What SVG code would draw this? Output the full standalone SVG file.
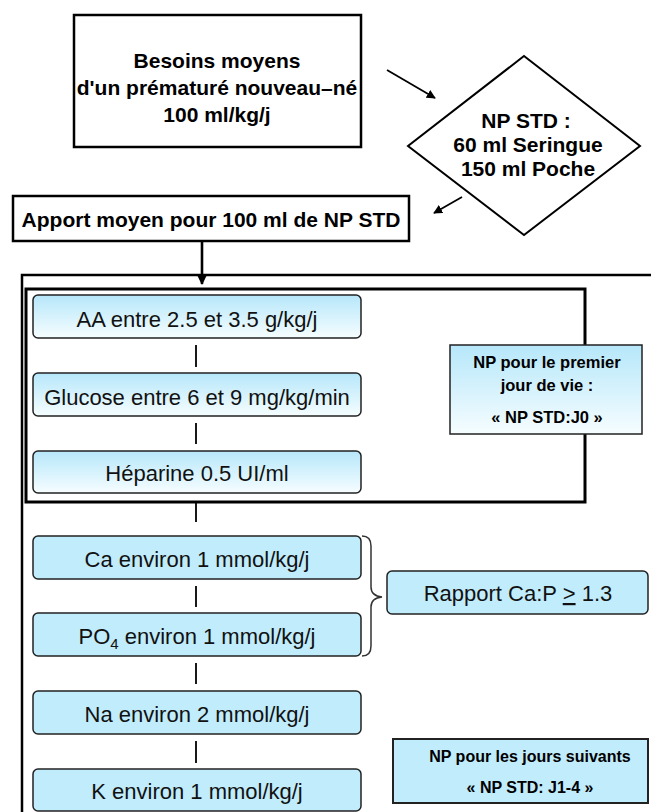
<svg xmlns="http://www.w3.org/2000/svg" width="651" height="812" viewBox="0 0 651 812">
<defs>
<linearGradient id="gr" x1="0" y1="0" x2="0" y2="1">
<stop offset="0" stop-color="#b6e7fa"/>
<stop offset="1" stop-color="#f6fdff"/>
</linearGradient>
<marker id="ah" viewBox="0 0 10 10" refX="9" refY="5" markerWidth="5" markerHeight="5" orient="auto" markerUnits="strokeWidth">
<path d="M0,0 L10,5 L0,10 z" fill="#000"/>
</marker>
<marker id="ah2" viewBox="0 0 10 10" refX="9" refY="5" markerWidth="3.5" markerHeight="3.5" orient="auto" markerUnits="strokeWidth">
<path d="M0,0 L10,5 L0,10 z" fill="#000"/>
</marker>
</defs>
<style>
.bt{font-family:"Liberation Sans",Arial,sans-serif;font-weight:bold;fill:#000;text-anchor:middle}
.rt{font-family:"Liberation Sans",Arial,sans-serif;font-size:22px;fill:#111;text-anchor:middle}
.hb{fill:#fff;stroke:#000;stroke-width:2.5}
.gb{fill:url(#gr);stroke:#222;stroke-width:1.5}
.sb{fill:#c0ecfc;stroke:#222;stroke-width:1.5}
.ln{stroke:#000;stroke-width:1.8;fill:none}
</style>
<rect width="651" height="812" fill="#fff"/>

<g id="frames">
<path d="M22,812 V275 H655" fill="none" stroke="#000" stroke-width="2.5"/>
<rect x="26" y="289" width="559" height="213" fill="none" stroke="#000" stroke-width="3"/>
</g>

<g id="connectors">
<line class="ln" x1="387" y1="70" x2="435" y2="98" marker-end="url(#ah)"/>
<line class="ln" x1="462" y1="197" x2="434" y2="213" marker-end="url(#ah)"/>
<line x1="202" y1="241" x2="202" y2="284" stroke="#000" stroke-width="2.6" marker-end="url(#ah2)"/>
<line class="ln" x1="196" y1="345" x2="196" y2="367"/>
<line class="ln" x1="196" y1="423" x2="196" y2="444"/>
<line class="ln" x1="196" y1="503" x2="196" y2="522"/>
<line class="ln" x1="196" y1="586" x2="196" y2="607"/>
<line class="ln" x1="196" y1="663" x2="196" y2="684"/>
<line class="ln" x1="196" y1="741" x2="196" y2="763"/>
<path d="M362,536 Q371,536 371,546 V587 Q371,596 382,597 Q371,598 371,607 V646 Q371,656 362,656" fill="none" stroke="#333" stroke-width="1.5"/>
</g>

<g id="besoins">
<rect class="hb" x="74" y="15" width="287" height="132"/>
<text class="bt" font-size="21" x="217" y="68">Besoins moyens</text>
<text class="bt" font-size="21" x="217" y="95">d'un prématuré nouveau–né</text>
<text class="bt" font-size="21" x="217" y="122">100 ml/kg/j</text>
</g>

<g id="npstd">
<polygon points="524,56 640,146 524,235 408,146" fill="#fff" stroke="#000" stroke-width="2"/>
<text class="bt" font-size="21" x="526" y="128">NP STD :</text>
<text class="bt" font-size="21" x="528" y="152">60 ml Seringue</text>
<text class="bt" font-size="21" x="528" y="176">150 ml Poche</text>
</g>

<g id="apport">
<rect class="hb" x="13" y="196" width="396" height="45"/>
<text class="bt" font-size="21" x="211" y="227">Apport moyen pour 100 ml de NP STD</text>
</g>

<g id="aa">
<rect class="gb" x="33" y="295" width="328" height="43" rx="5"/>
<text class="rt" x="197" y="327">AA entre 2.5 et 3.5 g/kg/j</text>
</g>
<g id="glucose">
<rect class="gb" x="33" y="373" width="328" height="43" rx="5"/>
<text class="rt" x="197" y="405">Glucose entre 6 et 9 mg/kg/min</text>
</g>
<g id="heparine">
<rect class="gb" x="33" y="451" width="328" height="42" rx="5"/>
<text class="rt" x="197" y="481">Héparine 0.5 UI/ml</text>
</g>

<g id="np-j0">
<rect class="gb" x="450" y="345" width="192" height="89" stroke-width="1.8"/>
<text class="bt" font-size="16.5" x="547" y="368">NP pour le premier</text>
<text class="bt" font-size="16.5" x="547" y="391">jour de vie :</text>
<text class="bt" font-size="16.5" x="547" y="423">« NP STD:J0 »</text>
</g>

<g id="ca">
<rect class="sb" x="33" y="536" width="328" height="43" rx="5"/>
<text class="rt" x="197" y="567">Ca environ 1 mmol/kg/j</text>
</g>
<g id="po4">
<rect class="sb" x="33" y="613" width="328" height="43" rx="5"/>
<text class="rt" x="197" y="644">PO<tspan font-size="15" dy="5">4</tspan><tspan dy="-5"> environ 1 mmol/kg/j</tspan></text>
</g>
<g id="na">
<rect class="sb" x="33" y="691" width="328" height="43" rx="5"/>
<text class="rt" x="197" y="722">Na environ 2 mmol/kg/j</text>
</g>
<g id="k">
<rect class="sb" x="33" y="769" width="328" height="42" rx="5"/>
<text class="rt" x="197" y="799">K environ 1 mmol/kg/j</text>
</g>

<g id="rapport">
<rect class="sb" x="387" y="571" width="261" height="43" rx="5"/>
<text class="rt" x="518" y="601">Rapport Ca:P <tspan text-decoration="underline">&gt;</tspan> 1.3</text>
</g>

<g id="np-j1-4">
<rect x="393" y="739" width="255" height="64" fill="#c0ecfc" stroke="#222" stroke-width="2"/>
<text class="bt" font-size="16" x="530" y="762">NP pour les jours suivants</text>
<text class="bt" font-size="16" x="530" y="793">« NP STD: J1-4 »</text>
</g>
</svg>
